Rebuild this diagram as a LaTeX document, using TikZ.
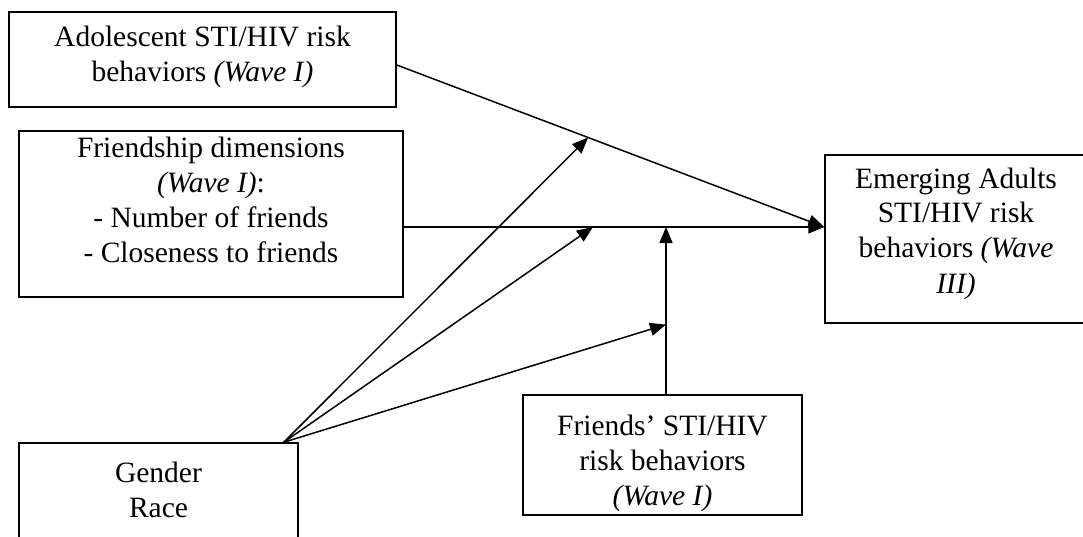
\documentclass[tikz,border=0pt]{standalone}
\usepackage{fontspec}
\setmainfont{Liberation Serif}
\usetikzlibrary{arrows.meta,calc}
\newcommand{\boxtext}[4]{\parbox[c][#2pt][t]{#1pt}{\centering\fontsize{29.5}{35}\selectfont\rule{0pt}{#3pt}#4}}
\tikzset{
  box/.style={draw, line width=1.5pt, rectangle, inner sep=0pt},
  arr/.style={line width=1.5pt, -{Triangle[length=16pt,width=13pt]}}
}
\begin{document}
\begin{tikzpicture}[x=1pt,y=-1pt]
\useasboundingbox (0,0) rectangle (1083,537);
\node[box] (A) at (202.5,59.5) {\boxtext{387}{95}{35}{Adolescent STI/HIV risk\\ behaviors \textit{(Wave I)}}};
\node[box] (B) at (211,214) {\boxtext{384}{166}{27}{Friendship dimensions\\ \textit{(Wave I)}:\\ - Number of friends\\ - Closeness to friends}};
\node[box] (C) at (956,239) {\boxtext{262}{168}{33}{Emerging Adults\\ STI/HIV risk\\ behaviors \textit{(Wave}\\ \textit{III)}}};
\node[box] (D) at (158.5,501.5) {\boxtext{279}{117}{39}{Gender\\ Race}};
\node[box] (E) at (662.5,455) {\boxtext{279}{120}{40}{Friends’ STI/HIV\\ risk behaviors\\ \textit{(Wave I)}}};
\coordinate (aout) at ($(A.east)+(0,5.5)$);
\coordinate (bout) at ($(B.east)+(0,13)$);
\coordinate (cin) at (C.west |- bout);
\coordinate (eout) at ($(E.north)+(3.5,0)$);
\coordinate (m3) at (eout |- cin);
\coordinate (m1) at ($(aout)!0.4476!(cin)$);
\coordinate (m2) at ($(bout)!0.450!(cin)$);
\coordinate (m4) at ($(eout)!0.4167!(m3)$);
\coordinate (dout) at ($(D.north east)+(-15,0)$);
\draw[arr] (aout) -- (cin);
\draw[arr] (bout) -- (cin);
\draw[arr] (eout) -- (m3);
\draw[arr] (dout) -- (m1);
\draw[arr] (dout) -- (m2);
\draw[arr] (dout) -- (m4);
\end{tikzpicture}
\end{document}
